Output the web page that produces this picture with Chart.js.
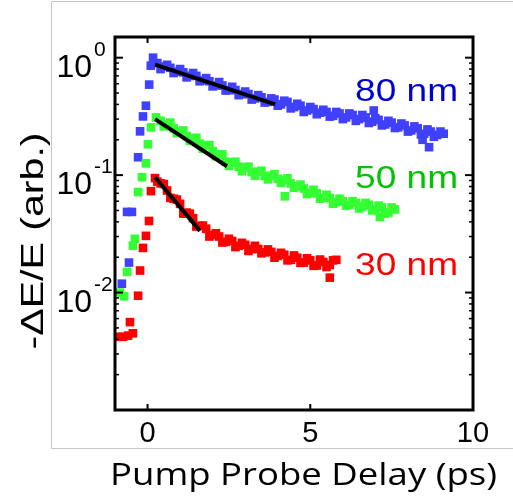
<!DOCTYPE html>
<html>
<head>
<meta charset="utf-8">
<script src="https://cdn.jsdelivr.net/npm/chart.js@4/dist/chart.umd.min.js"></script>
<style>
  html, body { margin: 0; padding: 0; background: #fff; }
  #wrap { width: 513px; height: 504px; }
</style>
</head>
<body>
<div id="wrap"><canvas id="myChart" width="513" height="504"></canvas></div>
<script>
// ---- data ----
const blueDelay = [-0.79, -0.63, -0.57, -0.48, -0.29, -0.23, -0.14, -0.05, 0.05, 0.1, 0.17,
  0.3, 0.5, 0.7, 0.9, 1.1, 1.3, 1.5, 1.7, 1.9, 2.1, 2.3, 2.5, 2.7, 2.9, 3.1, 3.3, 3.5, 3.7, 3.9,
  4.1, 4.3, 4.5, 4.7, 4.9, 5.1, 5.3, 5.5, 5.7, 5.9, 6.1, 6.3, 6.5, 6.7, 6.9, 7.1, 7.3, 7.5, 7.7,
  7.9, 8.1, 8.3, 8.5, 8.7, 8.9, 9.1, 6.95, 8.45, 8.65,
  0.4, 0.6, 0.8, 1.0, 1.2, 1.4, 1.6, 1.8, 2.0, 2.2, 2.4, 2.6, 2.8, 3.0, 3.2, 3.4, 3.6, 3.8, 4.0,
  4.2, 4.4, 4.6, 4.8, 5.0, 5.2, 5.4, 5.6, 5.8, 6.0, 6.2, 6.4, 6.6, 6.8, 7.0, 7.2, 7.4, 7.6, 7.8,
  8.0, 8.2, 8.4, 8.6, 8.8, 9.0];
const blueSignal = [0.0119, 0.0486, 0.018, 0.0486, 0.142, 0.236, 0.316, 0.39, 0.59, 0.855, 1.0,
  0.90, 0.84, 0.82, 0.76, 0.75, 0.70, 0.70, 0.64, 0.63, 0.58, 0.58, 0.53, 0.53, 0.49, 0.49, 0.45, 0.46, 0.42, 0.44,
  0.40, 0.42, 0.38, 0.39, 0.355, 0.365, 0.34, 0.345, 0.32, 0.335, 0.31, 0.325, 0.30, 0.31, 0.285, 0.295, 0.27, 0.28, 0.255,
  0.265, 0.24, 0.25, 0.225, 0.235, 0.22, 0.225, 0.355, 0.20, 0.173,
  0.80, 0.87, 0.74, 0.80, 0.68, 0.74, 0.63, 0.67, 0.57, 0.62, 0.525, 0.565, 0.48, 0.515, 0.44, 0.48, 0.415, 0.45, 0.39,
  0.43, 0.37, 0.405, 0.345, 0.38, 0.33, 0.36, 0.315, 0.345, 0.30, 0.335, 0.29, 0.325, 0.278, 0.305, 0.265, 0.29, 0.252, 0.275,
  0.235, 0.26, 0.222, 0.245, 0.212, 0.235];

const greenDelay = [-0.85, -0.72, -0.63, -0.45, -0.39, -0.29, -0.17, -0.05, 0.01, 0.11, 0.26,
  0.4, 0.6, 0.8, 1.0, 1.2, 1.4, 1.6, 1.8, 2.0, 2.2, 2.4, 2.6, 2.8, 3.0, 3.2, 3.4, 3.6, 3.8,
  4.0, 4.2, 4.4, 4.6, 4.8, 5.0, 5.2, 5.4, 5.6, 5.8, 6.0, 6.2, 6.4, 6.6, 6.8, 7.0, 7.2, 7.4, 7.6,
  4.22, 7.14,
  0.5, 0.7, 0.9, 1.1, 1.3, 1.5, 1.7, 1.9, 2.1, 2.3, 2.5, 2.7, 2.9, 3.1, 3.3, 3.5, 3.7, 3.9,
  4.1, 4.3, 4.5, 4.7, 4.9, 5.1, 5.3, 5.5, 5.7, 5.9, 6.1, 6.3, 6.5, 6.7, 6.9, 7.1, 7.3, 7.5];
const greenSignal = [0.0100, 0.0093, 0.0150, 0.0251, 0.0287, 0.0718, 0.096, 0.126, 0.183, 0.255, 0.31,
  0.29, 0.27, 0.25, 0.235, 0.215, 0.205, 0.185, 0.18, 0.16, 0.15, 0.13, 0.128, 0.118, 0.116, 0.106, 0.107, 0.098, 0.099,
  0.093, 0.091, 0.085, 0.08, 0.077, 0.071, 0.07, 0.064, 0.064, 0.059, 0.06, 0.056, 0.058, 0.054, 0.056, 0.051, 0.053, 0.048, 0.051,
  0.066, 0.044,
  0.26, 0.28, 0.228, 0.24, 0.196, 0.208, 0.168, 0.18, 0.145, 0.15, 0.12, 0.13, 0.108, 0.118, 0.099, 0.109, 0.092, 0.102,
  0.086, 0.094, 0.078, 0.083, 0.069, 0.075, 0.063, 0.068, 0.057, 0.063, 0.055, 0.06, 0.052, 0.058, 0.05, 0.055, 0.047, 0.053];

const redDelay = [-0.91, -0.75, -0.6, -0.45, -0.54, -0.29, -0.23, -0.14, -0.05, 0.045, 0.106, 0.23,
  0.4, 0.6, 0.8, 1.0, 1.2, 1.4, 1.6, 1.8, 2.0, 2.2, 2.4, 2.6, 2.8, 3.0, 3.2, 3.4, 3.6, 3.8,
  4.0, 4.2, 4.4, 4.6, 4.8, 5.0, 5.2, 5.4, 5.6, 5.8, 5.6,
  0.3, 0.5, 0.7, 0.9, 1.1, 1.3, 1.5, 1.7, 1.9, 2.1, 2.3, 2.5, 2.7, 2.9, 3.1, 3.3, 3.5, 3.7,
  3.9, 4.1, 4.3, 4.5, 4.7, 4.9, 5.1, 5.3, 5.5, 5.7];
const redSignal = [0.0042, 0.0042, 0.0043, 0.0045, 0.0056, 0.0094, 0.0154, 0.024, 0.0304, 0.0407, 0.0731, 0.0944,
  0.085, 0.074, 0.063, 0.057, 0.048, 0.043, 0.037, 0.035, 0.031, 0.030, 0.027, 0.0275, 0.025, 0.0255, 0.0235, 0.0235, 0.022, 0.0222,
  0.0205, 0.021, 0.019, 0.0198, 0.018, 0.0188, 0.017, 0.0182, 0.0172, 0.019, 0.0134,
  0.088, 0.084, 0.064, 0.062, 0.047, 0.047, 0.0365, 0.0372, 0.030, 0.032, 0.0267, 0.0287, 0.0244, 0.0265, 0.0226, 0.025, 0.0216, 0.0233,
  0.0198, 0.0218, 0.0188, 0.0207, 0.0179, 0.0196, 0.0169, 0.0191, 0.0165, 0.0188];

// exponential fits (start / end)
const blueFitX = [0.23, 3.92], blueFitY = [0.873, 0.40];
const greenFitX = [0.23, 2.44], greenFitY = [0.30, 0.119];
const redFitX = [0.23, 1.61], redFitY = [0.096, 0.0335];

const seriesLabels = ['80 nm', '50 nm', '30 nm'];
const labelLevels = [0.424, 0.0776, 0.0142];

const xTicks = [0, 5, 10];
const xTickLabels = ['0', '5', '10'];
const yTicks = [1, 0.1, 0.01];
const yTickExp = ['0', '-1', '-2'];
const yMinorDecades = [0.001, 0.01, 0.1, 1];
const yMinorSteps = [2, 3, 4, 5, 6, 7, 8, 9];

function pts(xs, ys) {
  return xs.map((x, i) => ({x: x, y: ys[i]}));
}

function stretched(ctx, text, cx, by, width) {
  const w = ctx.measureText(text).width;
  ctx.save();
  ctx.translate(cx, by);
  ctx.scale(width / w, 1);
  ctx.textAlign = 'center';
  ctx.textBaseline = 'alphabetic';
  ctx.fillText(text, 0, 0);
  ctx.restore();
}

const frame = {
  id: 'frame',
  beforeDraw(chart) {
    const ctx = chart.ctx;
    ctx.save();
    ctx.strokeStyle = '#c6c6c6';
    ctx.lineWidth = 1;
    ctx.beginPath();
    ctx.moveTo(513, 1.5); ctx.lineTo(51.5, 1.5); ctx.lineTo(51.5, 448.5); ctx.lineTo(513, 448.5);
    ctx.stroke();
    ctx.restore();
  },
  afterDraw(chart) {
    const ctx = chart.ctx;
    const a = chart.chartArea;
    const x = chart.scales.x, y = chart.scales.y;
    ctx.save();
    ctx.strokeStyle = '#000';
    ctx.lineWidth = 2;
    const seg = (x1, y1, x2, y2) => { ctx.beginPath(); ctx.moveTo(x1, y1); ctx.lineTo(x2, y2); ctx.stroke(); };

    yTicks.forEach(v => {
      const py = y.getPixelForValue(v);
      seg(a.left, py, a.left + 8, py);
      seg(a.right, py, a.right - 8, py);
    });
    ctx.lineWidth = 1.5;
    yMinorDecades.forEach(d => yMinorSteps.forEach(s => {
      const v = d * s;
      if (v > y.max) return;
      const py = y.getPixelForValue(v);
      seg(a.left, py, a.left + 4, py);
      seg(a.right, py, a.right - 4, py);
    }));
    ctx.lineWidth = 2;
    xTicks.forEach(v => {
      const px = x.getPixelForValue(v);
      seg(px, a.bottom, px, a.bottom - 6);
      seg(px, a.top, px, a.top + 6);
    });

    ctx.lineWidth = 3;
    ctx.strokeRect(a.left, a.top, a.right - a.left, a.bottom - a.top);

    // tick labels
    ctx.fillStyle = '#000';
    ctx.font = '29px "Liberation Sans", Arial, sans-serif';
    ctx.textBaseline = 'alphabetic';
    ctx.textAlign = 'center';
    xTicks.forEach((v, i) => {
      ctx.fillText(xTickLabels[i], x.getPixelForValue(v), 442);
    });
    yTicks.forEach((v, i) => {
      const py = y.getPixelForValue(v) + 19;
      ctx.font = '32px "Liberation Sans", Arial, sans-serif';
      ctx.textAlign = 'right';
      ctx.fillText('10', 92, py);
      ctx.font = '21px "Liberation Sans", Arial, sans-serif';
      ctx.textAlign = 'left';
      ctx.fillText(yTickExp[i], 94, py - 21);
    });

    // axis titles
    ctx.font = '31px "Open Sans", Lato, sans-serif';
    stretched(ctx, 'Pump Probe Delay (ps)', 303.5, 485, 387);
    ctx.save();
    ctx.translate(43, 241);
    ctx.rotate(-Math.PI / 2);
    ctx.font = '32px "Liberation Sans", Arial, sans-serif';
    stretched(ctx, '-\u0394E/E (arb.)', 0, 0, 217);
    ctx.restore();

    // series labels
    ctx.font = '32px "Liberation Sans", Arial, sans-serif';
    const labelColors = ['#0000cc', '#00c400', '#ff0000'];
    seriesLabels.forEach((t, i) => {
      ctx.fillStyle = labelColors[i];
      const right = x.getPixelForValue(9.54);
      stretched(ctx, t, right - 51.5, y.getPixelForValue(labelLevels[i]), 103);
    });
    ctx.restore();
  }
};

const fitStyle = {
  type: 'line',
  borderColor: '#000',
  borderWidth: 4,
  pointRadius: 0,
  fill: false
};
const dotStyle = {
  pointStyle: 'rect',
  pointRadius: 6.1,
  borderWidth: 0
};

const ctx = document.getElementById('myChart').getContext('2d');
const myChart = new Chart(ctx, {
  type: 'scatter',
  data: {
    datasets: [
      Object.assign({label: 'fit 80', data: pts(blueFitX, blueFitY)}, fitStyle),
      Object.assign({label: 'fit 50', data: pts(greenFitX, greenFitY)}, fitStyle),
      Object.assign({label: 'fit 30', data: pts(redFitX, redFitY)}, fitStyle),
      Object.assign({label: seriesLabels[2], data: pts(redDelay, redSignal), backgroundColor: '#ff0000'}, dotStyle),
      Object.assign({label: seriesLabels[1], data: pts(greenDelay, greenSignal), backgroundColor: '#33ff33'}, dotStyle),
      Object.assign({label: seriesLabels[0], data: pts(blueDelay, blueSignal), backgroundColor: '#4040ff'}, dotStyle)
    ]
  },
  options: {
    responsive: false,
    animation: false,
    events: [],
    layout: { padding: { left: 115, right: 40, top: 37, bottom: 94 } },
    plugins: { legend: { display: false }, tooltip: { enabled: false } },
    scales: {
      x: { type: 'linear', min: -1, max: 10, display: false },
      y: { type: 'logarithmic', min: 0.001, max: 1.5, display: false }
    }
  },
  plugins: [frame]
});
</script>
</body>
</html>
